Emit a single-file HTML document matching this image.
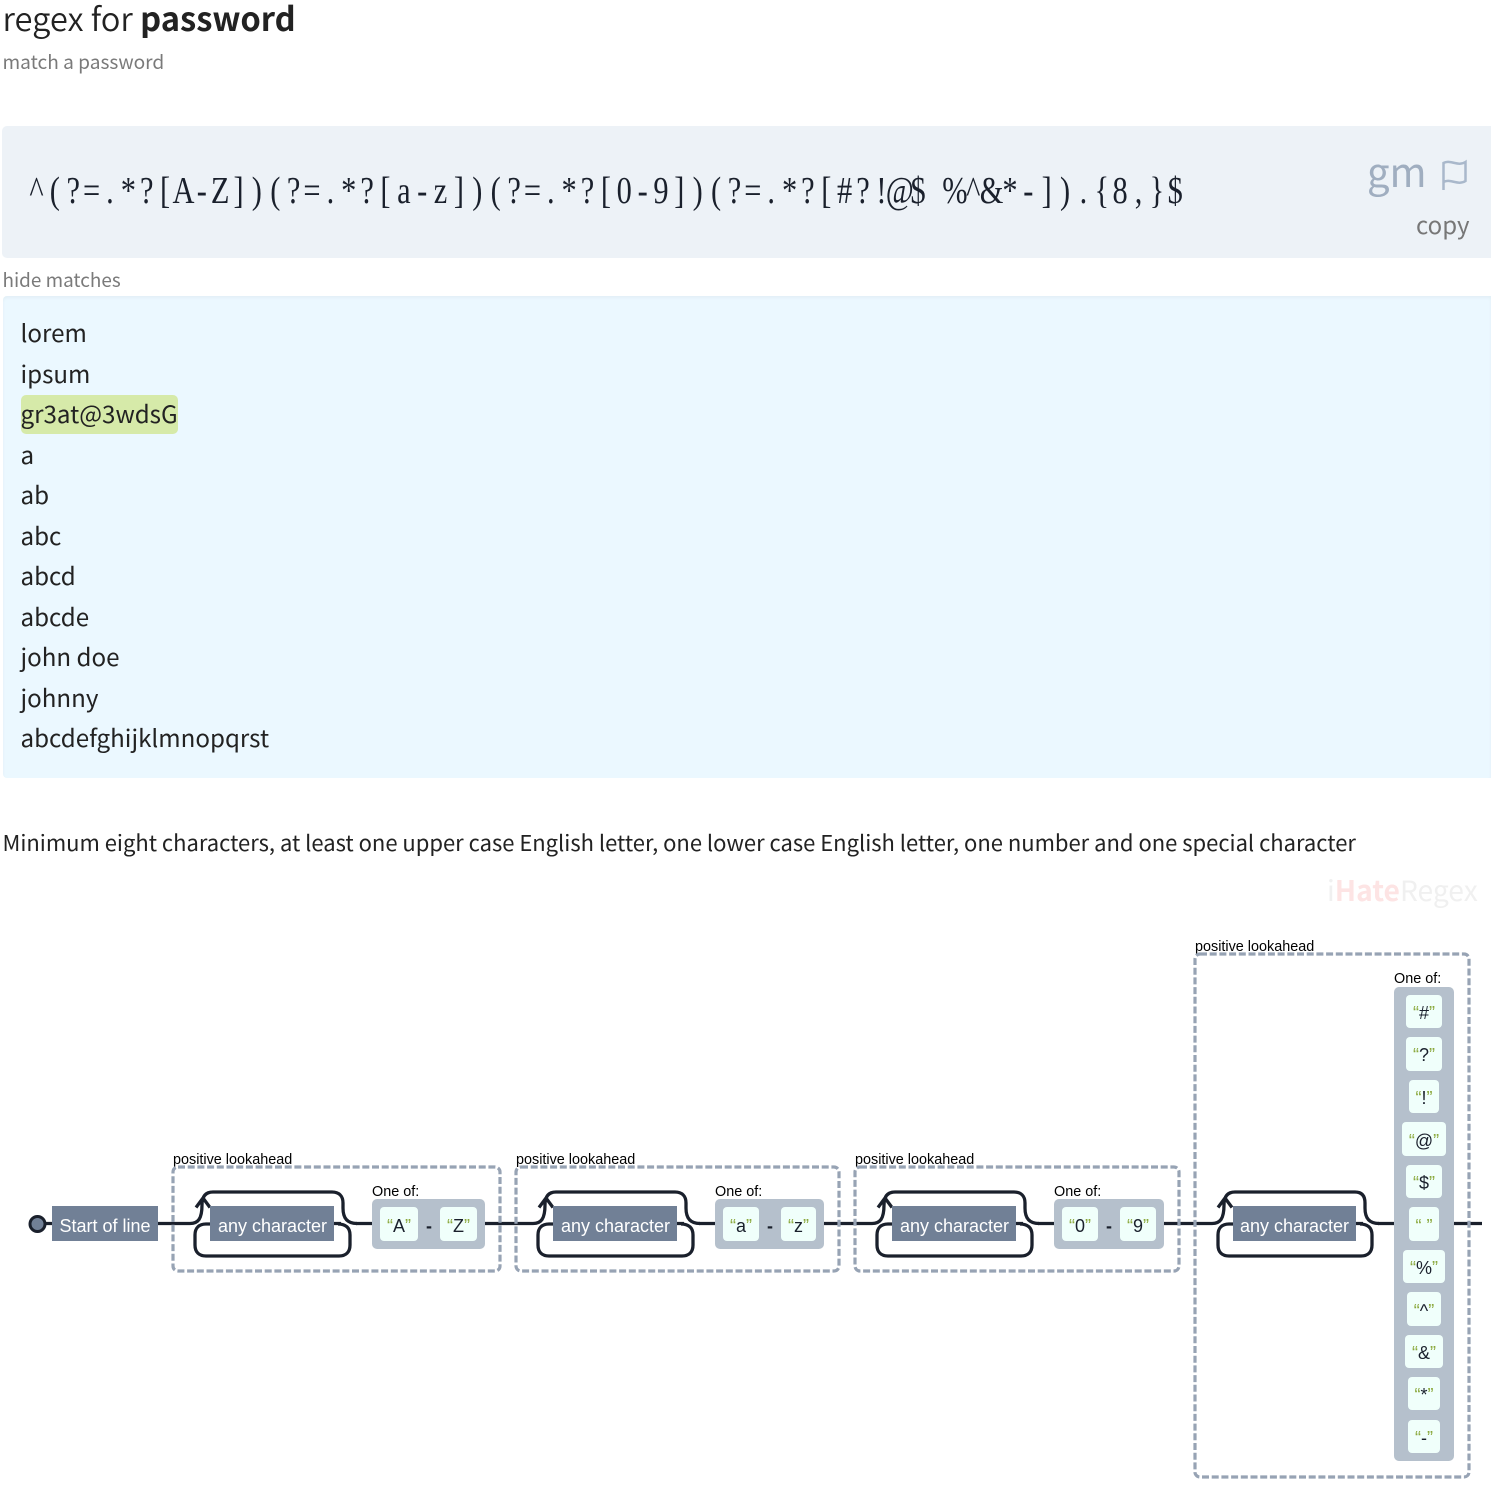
<!DOCTYPE html>
<html lang="en"><head><meta charset="utf-8"><title>regex for password</title>
<style>
html,body{margin:0;padding:0;background:#fff}
body{position:relative;width:1491px;height:1488px;overflow:hidden;font-family:"Noto Sans CJK JP","Liberation Sans",sans-serif;color:#222}
.a{position:absolute;white-space:pre;line-height:1}
.m{left:20.500px;font-size:24.150px;line-height:40px;height:40px}
svg{position:absolute;left:0;top:0}
svg text{font-family:"Liberation Sans",sans-serif}
.l{fill:#000;font-size:14.400px}
.t{fill:#fff;font-size:18px}
.r{fill:#718096}
.g{fill:#b5c0cc}
.b{fill:#f0fffb}
.c{fill:#1a202c;font-size:18px;text-anchor:middle}
.q{fill:#8aa83c}
.p{fill:none;stroke:#1a202c;stroke-width:3.300}
.d{fill:none;stroke:#97a3b4;stroke-width:3.200;stroke-dasharray:7 2.700}
</style></head><body>
<div class="a" style="left:2.500px;top:-2px;font-size:32.700px;line-height:40px;font-weight:350;color:#222">regex for <b style="font-weight:700">password</b></div>
<div class="a" style="left:2.500px;top:49px;font-size:19.100px;line-height:25px;color:#7a7a7a">match a password</div>
<div class="a" style="left:2px;top:126px;width:1489px;height:132px;background:#edf2f7;border-radius:5px 0 0 5px"></div>
<div class="a" style="left:1367px;top:147px;font-size:40px;line-height:46px;color:#a0aec0">gm</div>
<div class="a" style="left:1416px;top:209px;font-size:24px;line-height:30px;color:#777">copy</div>
<div class="a" style="left:2.500px;top:267px;font-size:18.900px;line-height:25px;color:#7a7a7a">hide matches</div>
<div class="a" style="left:3px;top:296px;width:1488px;height:482px;background:#ebf8ff;border-radius:4px 0 0 4px;box-shadow:inset 0 2px 3px rgba(0,0,0,.04)"></div>
<div class="a" style="left:21px;top:395px;width:157px;height:39px;background:#d6eaa9;border-radius:5px"></div>
<div class="a m" style="top:312px">lorem</div>
<div class="a m" style="top:353px">ipsum</div>
<div class="a m" style="top:393px">gr3at@3wdsG</div>
<div class="a m" style="top:434px">a</div>
<div class="a m" style="top:474px">ab</div>
<div class="a m" style="top:515px">abc</div>
<div class="a m" style="top:555px">abcd</div>
<div class="a m" style="top:596px">abcde</div>
<div class="a m" style="top:636px">john doe</div>
<div class="a m" style="top:677px">johnny</div>
<div class="a m" style="top:717px">abcdefghijklmnopqrst</div>
<div class="a" style="left:2.500px;top:828px;font-size:21.980px;line-height:30px;color:#222">Minimum eight characters, at least one upper case English letter, one lower case English letter, one number and one special character</div>
<div class="a" style="left:1327px;top:873px;font-size:28.200px;line-height:34px;color:#f0f0f0">i<b style="color:#fde4e4">Hate</b>Regex</div>

<svg width="1491" height="1488" viewBox="0 0 1491 1488" xmlns="http://www.w3.org/2000/svg">
<text xml:space="preserve" transform="scale(.8 1)" y="203" font-size="38" style="font-family:'Liberation Serif',serif;fill:#1a202c;text-anchor:middle" x="45.600 68.600 91.500 114.500 137.400 160.400 183.400 206.300 229.300 252.200 275.200 298.200 321.100 344.100 367 390 413 435.900 458.900 481.800 504.800 527.800 550.700 573.700 596.600 619.600 642.600 665.500 688.500 711.400 734.400 757.400 780.300 803.300 826.200 849.200 872.200 895.100 918.100 941 964 987 1009.900 1032.900 1055.800 1078.800 1101.800 1124.700 1147.700 1170.600 1193.600 1216.600 1239.500 1262.500 1285.400 1308.400 1331.400 1354.300 1377.300 1400.200 1423.200 1446.200 1469.100">^(?=.*?[A-Z])(?=.*?[a-z])(?=.*?[0-9])(?=.*?[#?!@$ %^&amp;*-]).{8,}$</text>
<path d="M1443.500 190V163C1450 159 1458 167 1465.500 162V181C1458 186 1450 178 1443.500 182" fill="none" stroke="#a9b8cb" stroke-width="2.500"/>

<!-- main line -->
<path class="p" d="M44 1223.500H52M158 1223.500H190M334 1223.500H341M356 1223.500H372M485 1223.500H533M677 1223.500H684M699 1223.500H715M824 1223.500H872M1016 1223.500H1023M1038 1223.500H1054M1164 1223.500H1212M1356 1223.500H1363M1378 1223.500H1394M1454 1223.500H1482"/>
<circle cx="37.500" cy="1224" r="7.500" fill="#718096" stroke="#1a202c" stroke-width="3"/>
<rect class="r" x="52" y="1206" width="106" height="35"/>
<text class="t" x="59.500" y="1232">Start of line</text>

<!-- group 1 -->
<g id="g1">
<text class="l" x="173" y="1164">positive lookahead</text>
<rect class="d" x="173" y="1167" width="327" height="104" rx="5"/>
<path class="p" d="M190 1223.500C198 1223.500 202 1219 202 1205C202 1196 206 1192 213 1192H332C339 1192 343 1196 343 1203V1208C343 1218 347 1223.500 357 1223.500M196 1207.500L203 1198L210 1207.500M210 1224H206C199 1224 195 1228 195 1235V1245C195 1252 199 1256 206 1256H339C346 1256 350 1252 350 1245V1235C350 1228 346 1224 338 1224"/>
<rect class="r" x="210" y="1206" width="124" height="35"/>
<text class="t" x="218" y="1232">any character</text>
<text class="l" x="372" y="1196">One of:</text>
<rect class="g" x="372" y="1199" width="113" height="50" rx="5"/>
<rect class="b" x="380" y="1207" width="38" height="34" rx="4"/>
<rect class="b" x="440" y="1207" width="37" height="34" rx="4"/>
<text class="c" x="399" y="1232"><tspan class="q">“</tspan>A<tspan class="q">”</tspan></text>
<text class="c" x="429" y="1232" style="font-weight:700">-</text>
<text class="c" x="458.500" y="1232"><tspan class="q">“</tspan>Z<tspan class="q">”</tspan></text>
</g>

<!-- group 2 -->
<text class="l" x="516" y="1164">positive lookahead</text>
<rect class="d" x="516" y="1167" width="323" height="104" rx="5"/>
<path class="p" d="M533 1223.500C541 1223.500 545 1219 545 1205C545 1196 549 1192 556 1192H675C682 1192 686 1196 686 1203V1208C686 1218 690 1223.500 700 1223.500M539 1207.500L546 1198L553 1207.500M553 1224H549C542 1224 538 1228 538 1235V1245C538 1252 542 1256 549 1256H682C689 1256 693 1252 693 1245V1235C693 1228 689 1224 681 1224"/>
<rect class="r" x="553" y="1206" width="124" height="35"/>
<text class="t" x="561" y="1232">any character</text>
<text class="l" x="715" y="1196">One of:</text>
<rect class="g" x="715" y="1199" width="109" height="50" rx="5"/>
<rect class="b" x="723" y="1207" width="36" height="34" rx="4"/>
<rect class="b" x="781" y="1207" width="35" height="34" rx="4"/>
<text class="c" x="741" y="1232"><tspan class="q">“</tspan>a<tspan class="q">”</tspan></text>
<text class="c" x="770" y="1232" style="font-weight:700">-</text>
<text class="c" x="798.500" y="1232"><tspan class="q">“</tspan>z<tspan class="q">”</tspan></text>

<!-- group 3 -->
<text class="l" x="855" y="1164">positive lookahead</text>
<rect class="d" x="855" y="1167" width="324" height="104" rx="5"/>
<path class="p" d="M872 1223.500C880 1223.500 884 1219 884 1205C884 1196 888 1192 895 1192H1014C1021 1192 1025 1196 1025 1203V1208C1025 1218 1029 1223.500 1039 1223.500M878 1207.500L885 1198L892 1207.500M892 1224H888C881 1224 877 1228 877 1235V1245C877 1252 881 1256 888 1256H1021C1028 1256 1032 1252 1032 1245V1235C1032 1228 1028 1224 1020 1224"/>
<rect class="r" x="892" y="1206" width="124" height="35"/>
<text class="t" x="900" y="1232">any character</text>
<text class="l" x="1054" y="1196">One of:</text>
<rect class="g" x="1054" y="1199" width="110" height="50" rx="5"/>
<rect class="b" x="1062" y="1207" width="36" height="34" rx="4"/>
<rect class="b" x="1120" y="1207" width="36" height="34" rx="4"/>
<text class="c" x="1080" y="1232"><tspan class="q">“</tspan>0<tspan class="q">”</tspan></text>
<text class="c" x="1109" y="1232" style="font-weight:700">-</text>
<text class="c" x="1138" y="1232"><tspan class="q">“</tspan>9<tspan class="q">”</tspan></text>

<!-- group 4 -->
<text class="l" x="1195" y="951">positive lookahead</text>
<rect class="d" x="1195" y="954" width="274" height="523" rx="5"/>
<path class="p" d="M1212 1223.500C1220 1223.500 1224 1219 1224 1205C1224 1196 1228 1192 1235 1192H1355C1362 1192 1365 1196 1365 1203V1208C1365 1218 1369 1223.500 1379 1223.500M1218 1207.500L1225 1198L1232 1207.500M1233 1224H1229C1222 1224 1218 1228 1218 1235V1245C1218 1252 1222 1256 1229 1256H1361C1368 1256 1372 1252 1372 1245V1235C1372 1228 1368 1224 1360 1224"/>
<rect class="r" x="1233" y="1206" width="123" height="35"/>
<text class="t" x="1240" y="1232">any character</text>
<text class="l" x="1394" y="983">One of:</text>
<rect class="g" x="1394" y="987" width="60" height="474" rx="5"/>
<rect class="b" x="1406" y="995" width="36" height="33" rx="4"/>
<rect class="b" x="1406" y="1037" width="36" height="34" rx="4"/>
<rect class="b" x="1409" y="1080" width="30" height="33" rx="4"/>
<rect class="b" x="1402" y="1122" width="44" height="34" rx="4"/>
<rect class="b" x="1406" y="1165" width="36" height="33" rx="4"/>
<rect class="b" x="1409" y="1207" width="30" height="34" rx="4"/>
<rect class="b" x="1403" y="1250" width="42" height="33" rx="4"/>
<rect class="b" x="1407" y="1292" width="34" height="34" rx="4"/>
<rect class="b" x="1405" y="1335" width="38" height="33" rx="4"/>
<rect class="b" x="1408" y="1377" width="32" height="33" rx="4"/>
<rect class="b" x="1408" y="1420" width="32" height="33" rx="4"/>
<g>
<text class="c" x="1424" y="1019"><tspan class="q">“</tspan>#<tspan class="q">”</tspan></text>
<text class="c" x="1424" y="1061"><tspan class="q">“</tspan>?<tspan class="q">”</tspan></text>
<text class="c" x="1424" y="1104"><tspan class="q">“</tspan>!<tspan class="q">”</tspan></text>
<text class="c" x="1424" y="1147"><tspan class="q">“</tspan>@<tspan class="q">”</tspan></text>
<text class="c" x="1424" y="1189"><tspan class="q">“</tspan>$<tspan class="q">”</tspan></text>
<text class="c" x="1424" y="1232" xml:space="preserve"><tspan class="q">“</tspan> <tspan class="q">”</tspan></text>
<text class="c" x="1424" y="1274"><tspan class="q">“</tspan>%<tspan class="q">”</tspan></text>
<text class="c" x="1424" y="1317"><tspan class="q">“</tspan>^<tspan class="q">”</tspan></text>
<text class="c" x="1424" y="1359"><tspan class="q">“</tspan>&amp;<tspan class="q">”</tspan></text>
<text class="c" x="1424" y="1401"><tspan class="q">“</tspan>*<tspan class="q">”</tspan></text>
<text class="c" x="1424" y="1444"><tspan class="q">“</tspan>-<tspan class="q">”</tspan></text>
</g>
</svg>
</body></html>
